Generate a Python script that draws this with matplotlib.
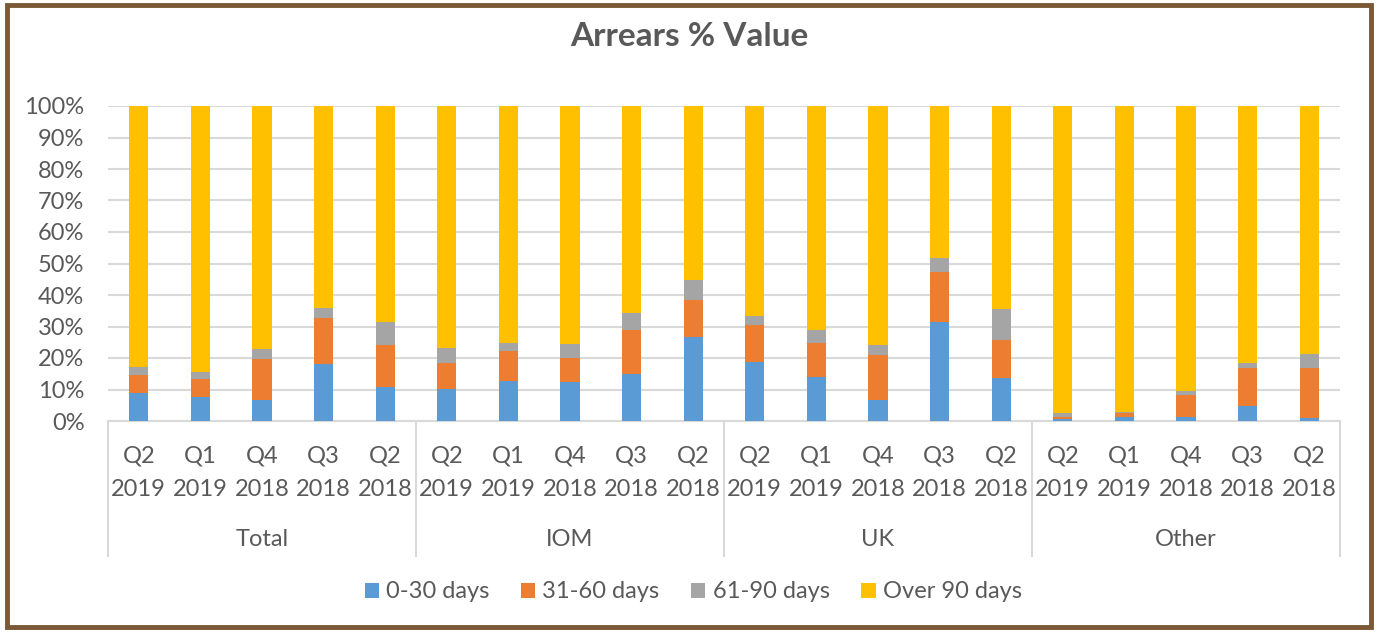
import matplotlib
matplotlib.use("Agg")
import matplotlib.pyplot as plt
import numpy as np
from matplotlib.patches import Rectangle, Patch

plt.rcParams['font.family'] = ['Lato', 'DejaVu Sans']

groups = ["Total", "IOM", "UK", "Other"]
quarters = ["Q2\n2019", "Q1\n2019", "Q4\n2018", "Q3\n2018", "Q2\n2018"]

# values in %, order: Total x5, IOM x5, UK x5, Other x5
d0_30 = [8.8, 7.5, 6.7, 18.1, 10.8,
         10.3, 12.7, 12.3, 14.8, 26.6,
         18.8, 14.0, 6.7, 31.4, 13.7,
         0.5, 1.3, 1.3, 4.7, 0.8]
d31_60 = [5.9, 5.9, 12.9, 14.5, 13.2,
          8.1, 9.4, 7.8, 14.2, 11.7,
          11.7, 10.9, 14.1, 15.8, 12.0,
          0.8, 1.2, 7.0, 12.1, 16.0]
d61_90 = [2.4, 2.2, 3.3, 3.3, 7.4,
          4.9, 2.8, 4.5, 5.3, 6.5,
          2.9, 4.1, 3.2, 4.4, 9.9,
          1.2, 0.5, 1.2, 1.6, 4.5]
over_90 = [82.9, 84.4, 77.1, 64.1, 68.6,
           76.7, 75.1, 75.4, 65.7, 55.2,
           66.6, 71.0, 76.0, 48.4, 64.4,
           97.5, 97.0, 90.5, 81.6, 78.7]

series = [("0-30 days", d0_30, "#5B9BD5"),
          ("31-60 days", d31_60, "#ED7D31"),
          ("61-90 days", d61_90, "#A5A5A5"),
          ("Over 90 days", over_90, "#FFC000")]

W, H = 1378, 632
fig = plt.figure(figsize=(W / 100, H / 100), dpi=100)
ax = fig.add_axes([108 / W, (H - 421) / H, (1340 - 108) / W, (421 - 106) / H])

x = np.arange(len(d0_30))
bottom = np.zeros(len(x))
for name, vals, col in series:
    v = np.array(vals) / 100.0
    ax.bar(x, v, 0.31, bottom=bottom, color=col, label=name, zorder=3)
    bottom += v

ax.set_xlim(-0.5, len(x) - 0.5)
ax.set_ylim(0, 1)
ax.set_yticks(np.arange(0, 1.01, 0.1))
ax.set_yticklabels([f"{int(round(t * 100))}%" for t in np.arange(0, 1.01, 0.1)])
ax.yaxis.grid(True, color="#D9D9D9", linewidth=1.5, zorder=0)
ax.set_xticks(x)
ax.set_xticklabels(quarters * len(groups), linespacing=1.7)
ax.tick_params(axis="both", length=0, labelsize=17, labelcolor="#595959")
ax.tick_params(axis="x", pad=18)
ax.tick_params(axis="y", pad=17)
for s in ["top", "right", "left"]:
    ax.spines[s].set_visible(False)
ax.spines["bottom"].set_color("#D9D9D9")
ax.spines["bottom"].set_linewidth(1.5)

# group separators and labels
trans = ax.get_xaxis_transform()
sep_bottom = -(556 - 421) / (421 - 106)
for i in range(len(groups) + 1):
    xs = i * 5 - 0.5
    ax.plot([xs, xs], [0, sep_bottom], transform=trans, color="#D9D9D9",
            linewidth=1.5, clip_on=False)
for i, g in enumerate(groups):
    ax.text(i * 5 + 2, -(539 - 421) / (421 - 106), g, transform=trans,
            ha="center", va="center", fontsize=17, color="#595959")

fig.text(0.5, 1 - 36 / H, "Arrears % Value", ha="center", va="center",
         fontsize=24, fontweight="bold", color="#595959")

handles = [Patch(facecolor=c, label=n) for n, _, c in series]
fig.legend(handles=handles, loc="center", bbox_to_anchor=(0.503, 1 - 592 / H),
           ncol=4, frameon=False, fontsize=17, labelcolor="#595959",
           handlelength=0.6, handleheight=0.6, handletextpad=0.3,
           columnspacing=1.35)

fig.patches.append(Rectangle((7 / W, 5 / H), (1371 - 7) / W, (627 - 5) / H,
                             transform=fig.transFigure, fill=False,
                             edgecolor="#7B5836", linewidth=3.5))

fig.savefig("out.png", dpi=100, facecolor="white")
